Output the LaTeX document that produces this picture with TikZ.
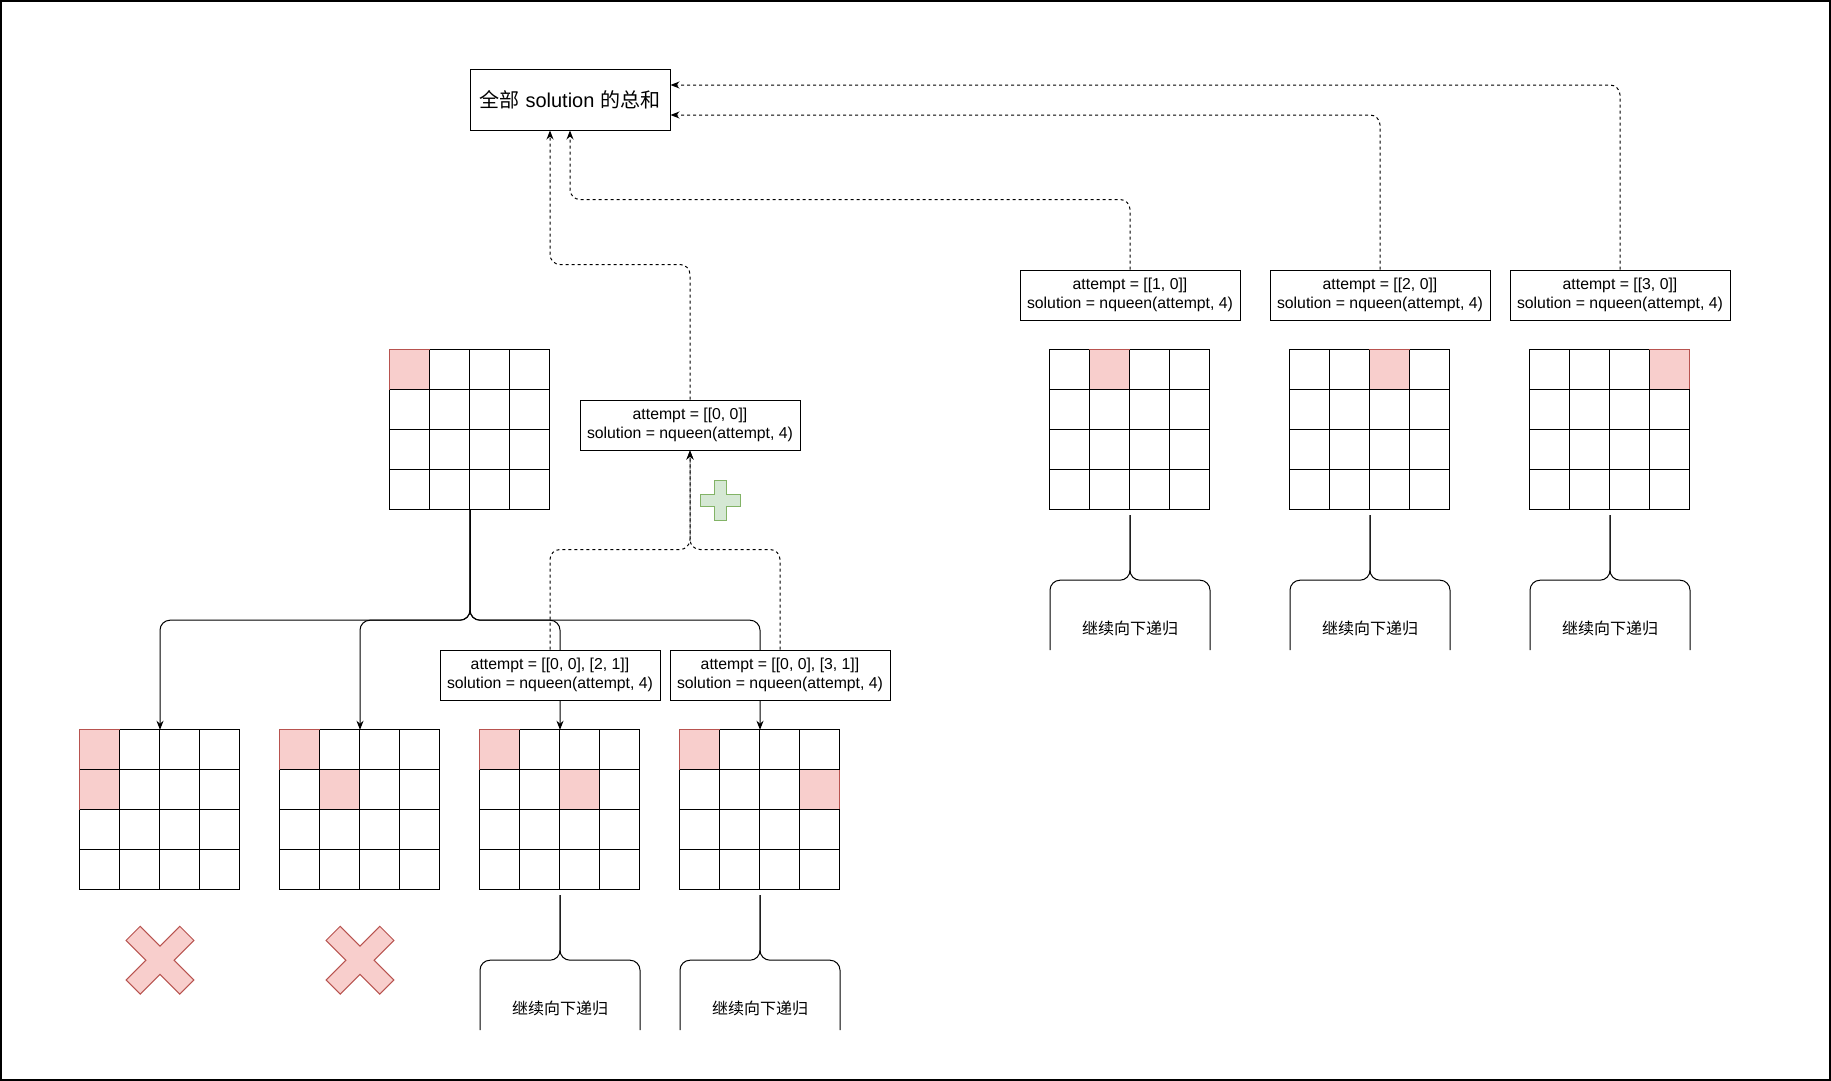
\documentclass[tikz,border=0pt]{standalone}
\usepackage{fontspec}
\setmainfont{Liberation Sans}
\newfontfamily\cjk{Noto Sans CJK SC}
\usepackage{tikz}
\usetikzlibrary{arrows.meta, positioning}
\definecolor{qfill}{HTML}{F8CECC}
\definecolor{qdraw}{HTML}{B85450}
\definecolor{okfill}{HTML}{D5E8D4}
\definecolor{okdraw}{HTML}{82B366}
\tikzset{
  board/.style={minimum size=160pt, inner sep=0pt},
  cell/.style={line width=1.2pt},
  queen/.style={fill=qfill, draw=qdraw, line width=1.2pt},
  callbox/.style={draw, fill=white, line width=1pt, minimum width=220pt, minimum height=50pt,
    inner sep=0pt, align=center, font=\fontsize{15.8}{19}\selectfont},
  sumbox/.style={draw, fill=white, line width=1pt, minimum width=200pt, minimum height=60pt,
    inner sep=0pt, font=\fontsize{20}{24}\selectfont},
  godown/.style={font=\cjk\fontsize{16}{19}\selectfont},
  wire/.style={line width=1pt, rounded corners=10pt},
  link/.style={wire, -{Stealth[length=9pt,width=7pt]}},
  back/.style={link, dash pattern=on 3pt off 3pt},
  nogood/.style={fill=qfill, draw=qdraw, line width=1pt},
  good/.style={fill=okfill, draw=okdraw, line width=1pt}
}
\newcommand{\queenboard}[3]{%
  \node[board] (#1) at (#2) {};
  \begin{scope}[shift={(#1.north west)}]
    \draw[cell] (0,0) rectangle (160,160);
    \foreach \col/\row in {#3} \draw[queen] (\col*40,\row*40) rectangle ++(40,40);
    \foreach \i in {40,80,120} {
      \draw[cell] (\i,0) -- (\i,160);
      \draw[cell] (0,\i) -- (160,\i);
    }
  \end{scope}}

\begin{document}
\begin{tikzpicture}[x=1pt, y=-1pt]
  \useasboundingbox (0,0) rectangle (1831,1081);
  \draw[line width=2pt] (1,1) rectangle (1830,1080);

  \queenboard{b0}{470,430}{0/0}
  \queenboard{c1}{160,810}{0/0, 0/1}
  \queenboard{c2}{360,810}{0/0, 1/1}
  \queenboard{c3}{560,810}{0/0, 2/1}
  \queenboard{c4}{760,810}{0/0, 3/1}
  \queenboard{r1}{1130,430}{1/0}
  \queenboard{r2}{1370,430}{2/0}
  \queenboard{r3}{1610,430}{3/0}

  \foreach \kid in {c1, c2, c3, c4}
    \draw[link] (b0.south) -- ++(0,110) -| (\kid.north);

  \node[sumbox] (sum) at (570,100) {{\cjk 全部} solution {\cjk 的总和}};
  \node[callbox] (a00) at (690,425) {attempt = [[0, 0]]\\solution = nqueen(attempt, 4)};
  \node[callbox] (a21) at (550,675) {attempt = [[0, 0], [2, 1]]\\solution = nqueen(attempt, 4)};
  \node[callbox] (a31) at (780,675) {attempt = [[0, 0], [3, 1]]\\solution = nqueen(attempt, 4)};
  \node[callbox] (a10) at (1130,295) {attempt = [[1, 0]]\\solution = nqueen(attempt, 4)};
  \node[callbox] (a20) at (1380,295) {attempt = [[2, 0]]\\solution = nqueen(attempt, 4)};
  \node[callbox] (a30) at (1620,295) {attempt = [[3, 0]]\\solution = nqueen(attempt, 4)};

  \foreach \from in {a21, a31}
    \draw[back] (\from.north) -- ++(0,-100) -| (a00.south);
  \draw[back] (a00.north) -- ++(0,-135) -| ([xshift=-20pt]sum.south);
  \draw[back] (a10.north) -- ++(0,-70) -| (sum.south);
  \draw[back] (a20.north) |- ([yshift=-15pt]sum.east);
  \draw[back] (a30.north) |- ([yshift=15pt]sum.east);

  \draw[good] (720,500) ++(-6,-20) -- ++(12,0) -- ++(0,14) -- ++(14,0) -- ++(0,12) -- ++(-14,0)
    -- ++(0,14) -- ++(-12,0) -- ++(0,-14) -- ++(-14,0) -- ++(0,-12) -- ++(14,0) -- cycle;

  \foreach \b in {c1, c2} {
    \begin{scope}[shift={([yshift=-70pt]\b.south)}, rotate=45]
      \draw[nogood] (-10,-38) -- (10,-38) -- (10,-10) -- (38,-10) -- (38,10) -- (10,10)
        -- (10,38) -- (-10,38) -- (-10,10) -- (-38,10) -- (-38,-10) -- (-10,-10) -- cycle;
    \end{scope}
  }

  \foreach \b in {c3, c4, r1, r2, r3} {
    \draw[wire] ([yshift=-5pt]\b.south) -- ++(0,65) -| ++(-80,70);
    \draw[wire] ([yshift=-5pt]\b.south) -- ++(0,65) -| ++(80,70);
    \node[godown] (k-\b) at ([yshift=-118pt]\b.south) {继续向下递归};
  }
\end{tikzpicture}
\end{document}
